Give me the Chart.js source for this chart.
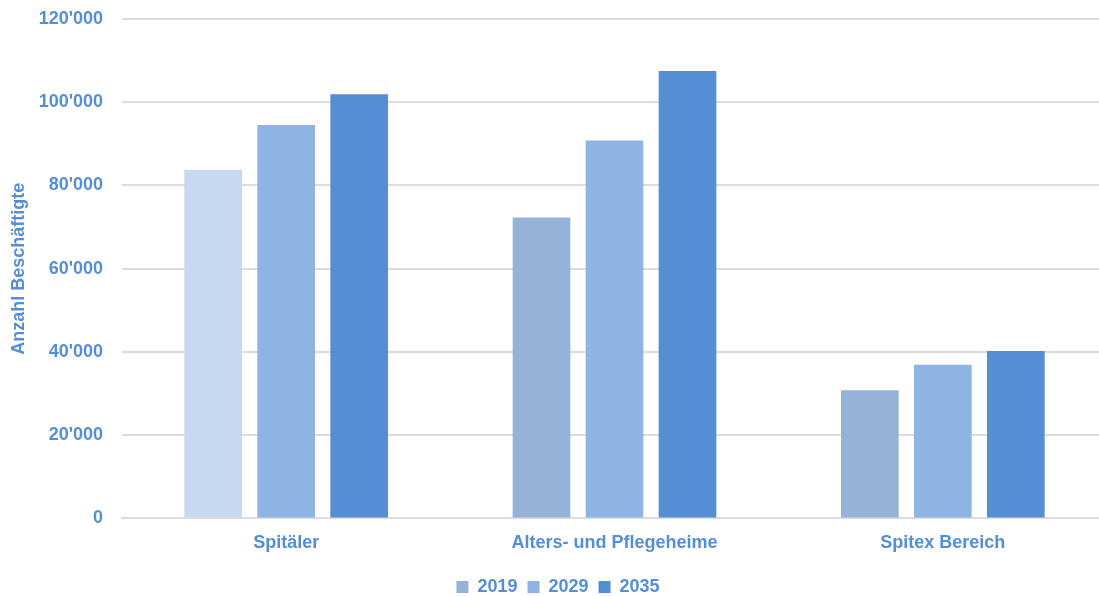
<!DOCTYPE html>
<html>
<head>
<meta charset="utf-8">
<script src="https://cdn.jsdelivr.net/npm/chart.js@4/dist/chart.umd.min.js"></script>
<style>
  html, body { margin: 0; padding: 0; background: #ffffff; overflow: hidden; }
  #wrap { width: 1107px; height: 596px; position: relative; }
</style>
</head>
<body>
<div id="wrap"><canvas id="c"></canvas></div>
<script>
// Beschäftigte im Gesundheitswesen nach Bereich
const categories = ['Spitäler', 'Alters- und Pflegeheime', 'Spitex Bereich'];
const years = ['2019', '2029', '2035'];
const values2019 = [83800, 72300, 30800];
const values2029 = [94500, 90800, 36900];
const values2035 = [101900, 107500, 40200];
const yTicks = [0, 20000, 40000, 60000, 80000, 100000, 120000];

const textColor = '#558ed5';
const gridColor = '#dcdcdc';
const font = { family: '"Liberation Sans", Arial, sans-serif', size: 18, weight: 'bold' };

function swissNumber(v) {
  return String(v).replace(/\B(?=(\d{3})+(?!\d))/g, "'");
}

new Chart(document.getElementById('c'), {
  type: 'bar',
  data: {
    labels: categories,
    datasets: [
      { label: years[0], data: values2019, backgroundColor: ['#c6d9f1', '#95b3d7', '#95b3d7'] },
      { label: years[1], data: values2029, backgroundColor: '#8eb4e3' },
      { label: years[2], data: values2035, backgroundColor: '#558ed5' }
    ]
  },
  options: {
    responsive: true,
    maintainAspectRatio: false,
    animation: false,
    devicePixelRatio: 1,
    categoryPercentage: 0.667,
    barPercentage: 0.79,
    layout: { padding: { top: 19, right: 0, bottom: -10, left: 9 } },
    plugins: {
      tooltip: { enabled: false },
      legend: {
        position: 'bottom',
        labels: {
          color: textColor,
          font: font,
          boxWidth: 12,
          boxHeight: 12,
          padding: 10,
          generateLabels(chart) {
            const cols = ['#95b3d7', '#8eb4e3', '#558ed5'];
            return chart.data.datasets.map((ds, i) => ({
              text: ds.label,
              fillStyle: cols[i],
              strokeStyle: cols[i],
              lineWidth: 0,
              fontColor: textColor,
              datasetIndex: i,
              hidden: false
            }));
          }
        }
      }
    },
    scales: {
      x: {
        grid: { display: false, drawTicks: false },
        border: { display: true, color: gridColor, width: 2 },
        ticks: { color: textColor, font: font, padding: 14 }
      },
      y: {
        min: 0,
        max: 120000,
        afterBuildTicks(scale) { scale.ticks = yTicks.map(v => ({ value: v })); },
        afterFit(scale) { scale.width = 113; },
        grid: { color: gridColor, lineWidth: 2, drawTicks: true, tickLength: 19, tickColor: 'rgba(0,0,0,0)' },
        border: { display: false },
        ticks: {
          color: textColor,
          font: font,
          padding: 0,
          callback: v => swissNumber(v)
        },
        title: {
          display: true,
          text: 'Anzahl Beschäftigte',
          color: textColor,
          font: { family: font.family, size: 18, weight: 'bold' },
          padding: { top: -1, bottom: 0 }
        }
      }
    }
  }
});
</script>
</body>
</html>
